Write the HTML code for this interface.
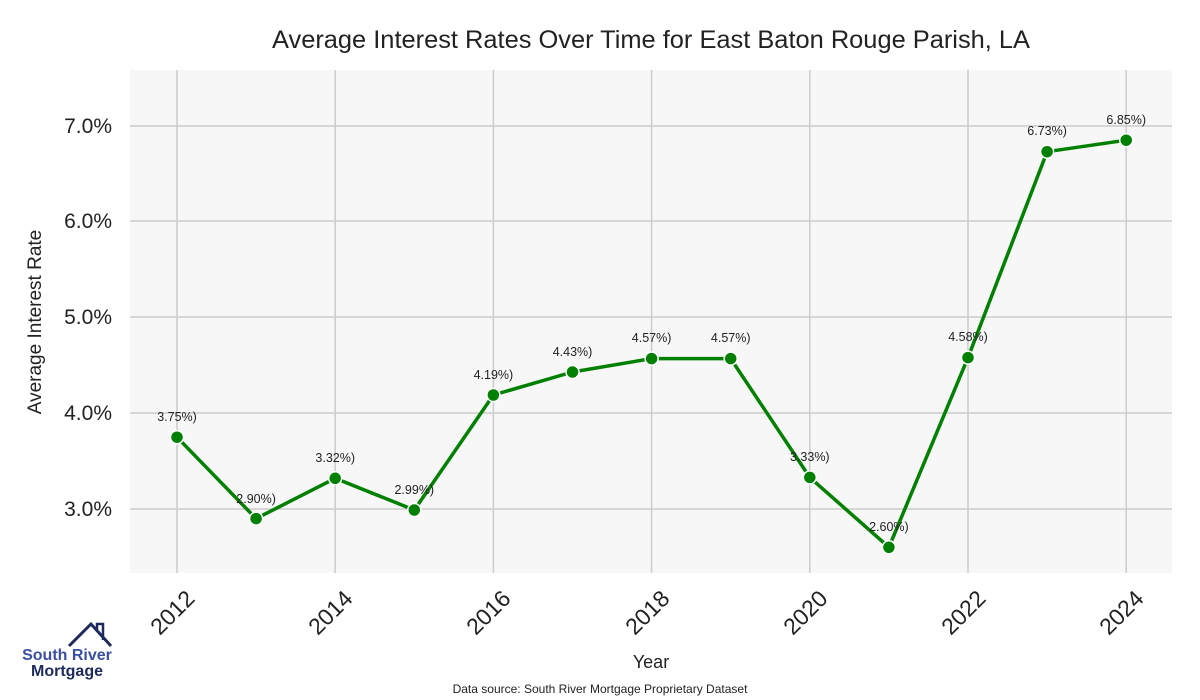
<!DOCTYPE html>
<html><head><style>body{margin:0;background:#fff}svg{display:block}text{font-family:"Liberation Sans",sans-serif}</style></head><body>
<svg width="1200" height="700" viewBox="0 0 1200 700" xmlns="http://www.w3.org/2000/svg">
<rect x="130" y="70" width="1042" height="503" fill="#f7f7f7"/>
<g stroke="#cccccc" stroke-width="1.5">
<line x1="130" x2="1172" y1="126" y2="126"/><line x1="130" x2="1172" y1="221" y2="221"/><line x1="130" x2="1172" y1="317" y2="317"/><line x1="130" x2="1172" y1="413" y2="413"/><line x1="130" x2="1172" y1="509" y2="509"/>
<line x1="177" x2="177" y1="70" y2="573"/><line x1="335.2" x2="335.2" y1="70" y2="573"/><line x1="493.4" x2="493.4" y1="70" y2="573"/><line x1="651.6" x2="651.6" y1="70" y2="573"/><line x1="809.8" x2="809.8" y1="70" y2="573"/><line x1="968" x2="968" y1="70" y2="573"/><line x1="1126.2" x2="1126.2" y1="70" y2="573"/>
</g>
<text x="651" y="48" text-anchor="middle" font-size="25" textLength="758" lengthAdjust="spacingAndGlyphs" fill="#222">Average Interest Rates Over Time for East Baton Rouge Parish, LA</text>
<g font-size="21" fill="#222" text-anchor="end">
<text x="112" y="133">7.0%</text><text x="112" y="228">6.0%</text><text x="112" y="324">5.0%</text><text x="112" y="420">4.0%</text><text x="112" y="516">3.0%</text>
</g>
<text transform="translate(41,322) rotate(-90)" text-anchor="middle" font-size="19" fill="#222">Average Interest Rate</text>
<g font-size="23" fill="#222" text-anchor="end">
<text transform="translate(196,600) rotate(-45)">2012</text>
<text transform="translate(354,600) rotate(-45)">2014</text>
<text transform="translate(512,600) rotate(-45)">2016</text>
<text transform="translate(671,600) rotate(-45)">2018</text>
<text transform="translate(829,600) rotate(-45)">2020</text>
<text transform="translate(987,600) rotate(-45)">2022</text>
<text transform="translate(1145,600) rotate(-45)">2024</text>
</g>
<text x="651" y="668" text-anchor="middle" font-size="18" fill="#222">Year</text>
<text x="600" y="693" text-anchor="middle" font-size="12" fill="#222">Data source: South River Mortgage Proprietary Dataset</text>
<polyline fill="none" stroke="#008000" stroke-width="3.5" stroke-linejoin="round" points="177,437.2 256.1,518.6 335.2,478.3 414.3,510 493.4,395 572.5,372 651.6,358.6 730.7,358.6 809.8,477.4 888.9,547.3 968,357.6 1047.1,151.7 1126.2,140.2"/>
<g fill="#008000" stroke="#fff" stroke-width="1.5">
<circle cx="177" cy="437.2" r="6.5"/><circle cx="256.1" cy="518.6" r="6.5"/><circle cx="335.2" cy="478.3" r="6.5"/><circle cx="414.3" cy="510" r="6.5"/><circle cx="493.4" cy="395" r="6.5"/><circle cx="572.5" cy="372" r="6.5"/><circle cx="651.6" cy="358.6" r="6.5"/><circle cx="730.7" cy="358.6" r="6.5"/><circle cx="809.8" cy="477.4" r="6.5"/><circle cx="888.9" cy="547.3" r="6.5"/><circle cx="968" cy="357.6" r="6.5"/><circle cx="1047.1" cy="151.7" r="6.5"/><circle cx="1126.2" cy="140.2" r="6.5"/>
</g>
<g font-size="12.5" fill="#222" text-anchor="middle">
<text x="177" y="421">3.75%)</text><text x="256.1" y="503">2.90%)</text><text x="335.2" y="462">3.32%)</text><text x="414.3" y="494">2.99%)</text><text x="493.4" y="379">4.19%)</text><text x="572.5" y="356">4.43%)</text><text x="651.6" y="342">4.57%)</text><text x="730.7" y="342">4.57%)</text><text x="809.8" y="461">3.33%)</text><text x="888.9" y="531">2.60%)</text><text x="968" y="341">4.58%)</text><text x="1047.1" y="135">6.73%)</text><text x="1126.2" y="124">6.85%)</text>
</g>
<polyline fill="none" stroke="#1f2a5c" stroke-width="3" points="69,646 91,624 111,646"/>
<polyline fill="none" stroke="#1f2a5c" stroke-width="2.5" points="97,630 97,624 103,624 103,640"/>
<text x="67" y="660" text-anchor="middle" font-size="16" font-weight="bold" fill="#3b4fa0">South River</text>
<text x="67" y="676" text-anchor="middle" font-size="16" font-weight="bold" fill="#1f2a5c">Mortgage</text>
</svg>
</body></html>
